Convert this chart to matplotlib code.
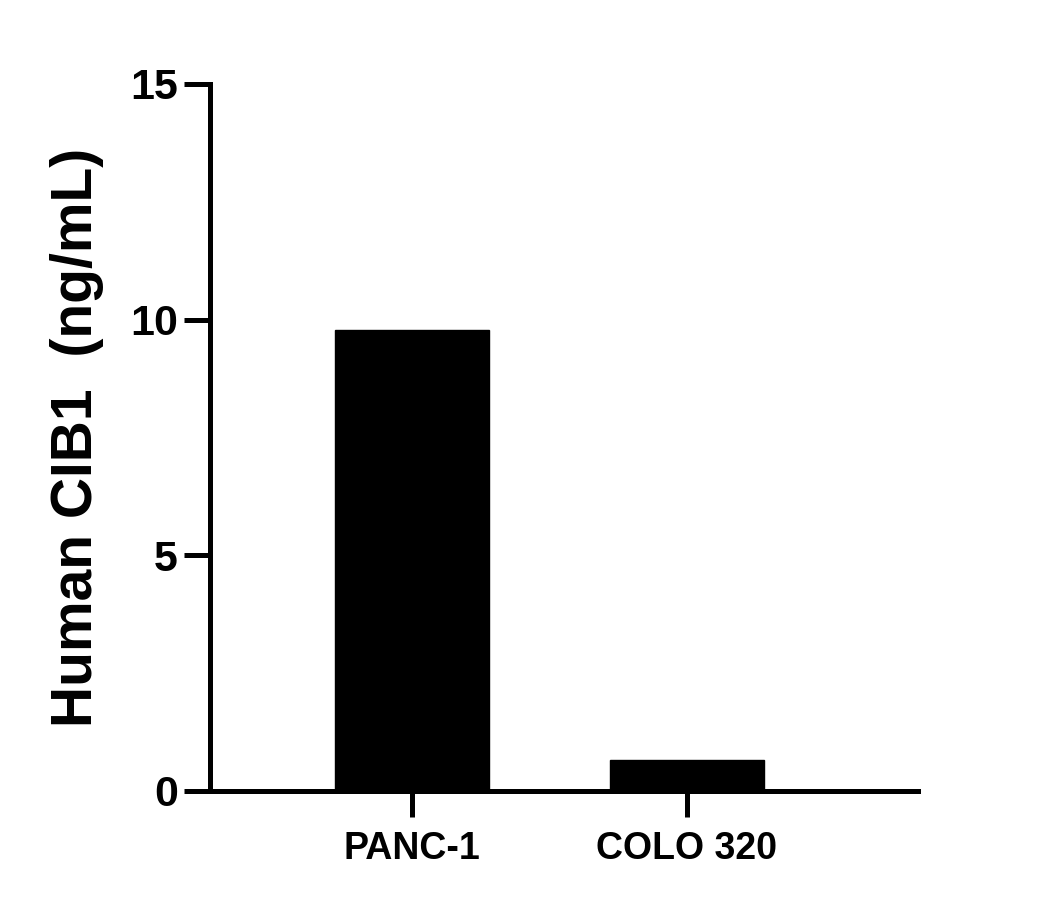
import matplotlib
matplotlib.use("Agg")
import matplotlib.pyplot as plt

plt.rcParams['font.family'] = ['Liberation Sans', 'DejaVu Sans']
plt.rcParams['font.weight'] = 'bold'

# data
cell_lines = ["PANC-1", "COLO 320"]
cib1_ng_ml = [9.78, 0.66]
y_ticks = [0, 5, 10, 15]

fig = plt.figure(figsize=(10.55, 9.08), dpi=100)
ax = fig.add_axes([0.199, 0.129, 0.671, 0.7785])

x = list(range(len(cell_lines)))
ax.bar(x, cib1_ng_ml, width=0.56, color='black', edgecolor='black', zorder=1)

ax.set_xlim(-0.735, 1.84)
ax.set_ylim(0, 15)
ax.set_yticks(y_ticks)
ax.set_xticks(x)
ax.set_xticklabels(cell_lines)

for side in ['top', 'right']:
    ax.spines[side].set_visible(False)
for side in ['left', 'bottom']:
    ax.spines[side].set_linewidth(3.6)
    ax.spines[side].set_zorder(3)

ax.tick_params(axis='both', width=3.6, length=19, color='black')
ax.tick_params(axis='y', labelsize=31, pad=4)
ax.tick_params(axis='x', labelsize=27, pad=10)

ax.set_ylabel("Human CIB1  (ng/mL)", fontsize=41, fontweight='bold', labelpad=19)

fig.savefig("out.png", dpi=100)
